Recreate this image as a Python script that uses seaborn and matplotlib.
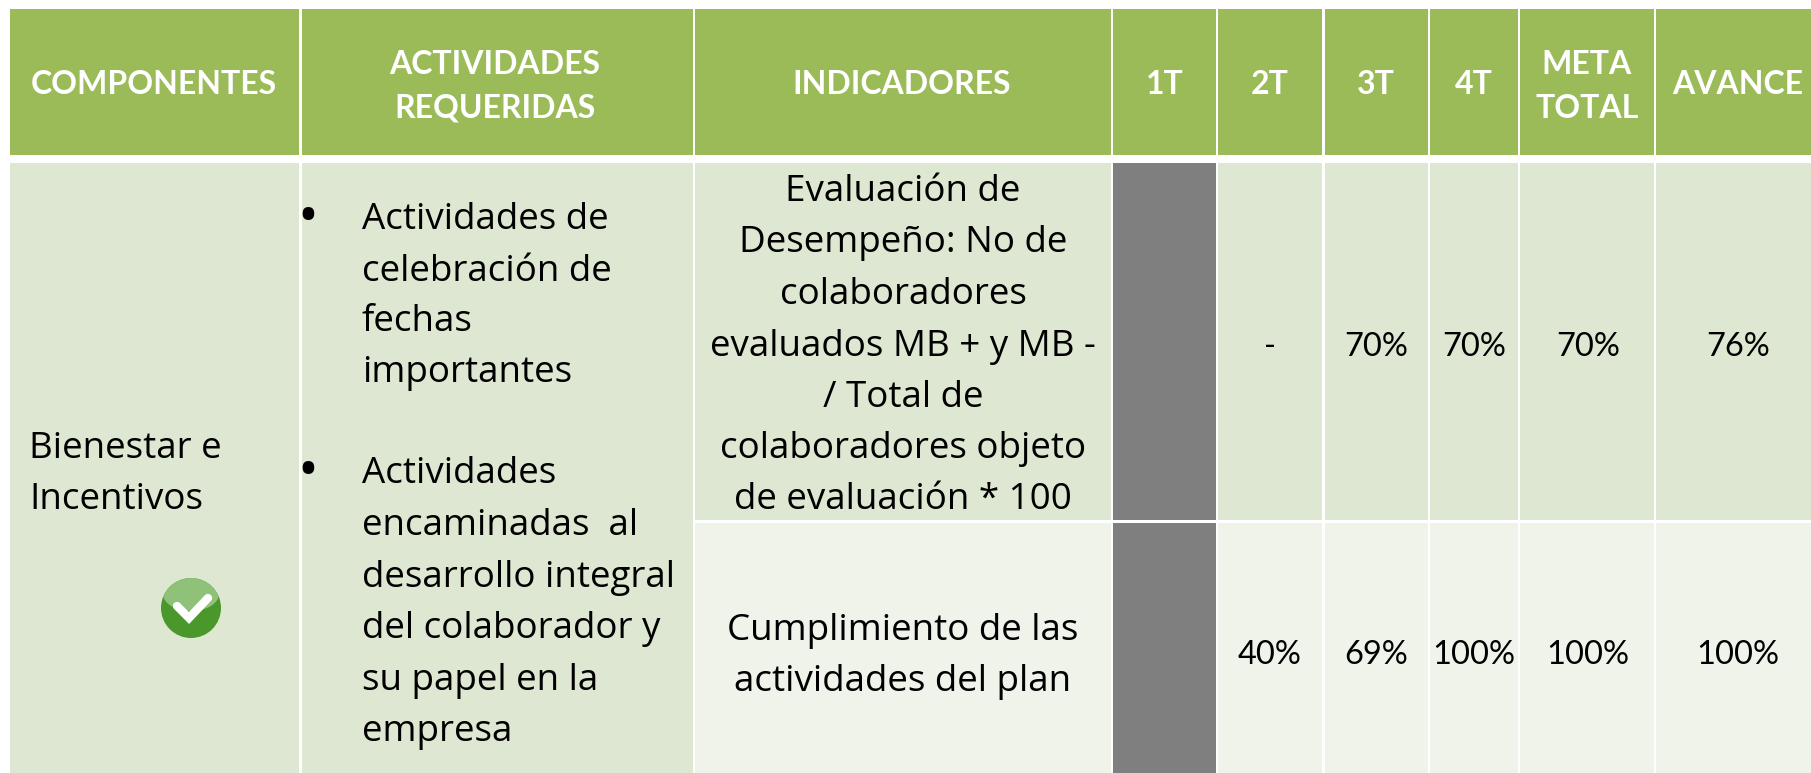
import numpy as np
import matplotlib
matplotlib.use("Agg")
import matplotlib.pyplot as plt
from matplotlib.colors import ListedColormap
from matplotlib.patches import Circle, Ellipse
import seaborn as sns

# ---- content ----
header_single = ["COMPONENTES", "INDICADORES", "1T", "2T", "3T", "4T", "AVANCE"]
header_double = [("ACTIVIDADES", "REQUERIDAS"), ("META", "TOTAL")]
component = ["Bienestar e", "Incentivos"]
activities = ["Actividades de", "celebración de", "fechas", "importantes",
              "Actividades", "encaminadas  al", "desarrollo integral",
              "del colaborador y", "su papel en la", "empresa"]
indicator_1 = ["Evaluación de", "Desempeño: No de", "colaboradores",
               "evaluados MB + y MB -", "/ Total de", "colaboradores objeto",
               "de evaluación * 100"]
indicator_2 = ["Cumplimiento de las", "actividades del plan"]
values_1 = ["-", "70%", "70%", "70%", "76%"]
values_2 = ["40%", "69%", "100%", "100%", "100%"]

# ---- layout (pixels) ----
col_edges = [0, 10, 299, 302, 693, 695, 1111, 1113, 1216, 1218, 1322, 1325,
             1428, 1430, 1518, 1520, 1654, 1656, 1811]
row_edges = [0, 9, 155, 163, 520, 523, 773]
WHITE, GREEN, LIGHT, PALE, GREY = 0, 1, 2, 3, 4
palette = ["#FFFFFF", "#9BBB59", "#DEE7D1", "#EFF3EA", "#7F7F7F"]

n_rows, n_cols = len(row_edges) - 1, len(col_edges) - 1
codes = np.zeros((n_rows, n_cols), dtype=int)
cell_cols = list(range(1, n_cols, 2))
for c in cell_cols:
    codes[1, c] = GREEN
    codes[3, c] = LIGHT
    codes[5, c] = PALE
codes[4, cell_cols[:2]] = LIGHT
codes[5, cell_cols[:2]] = LIGHT
codes[3, cell_cols[3]] = GREY
codes[5, cell_cols[3]] = GREY
grid = np.repeat(np.repeat(codes, np.diff(row_edges), axis=0), np.diff(col_edges), axis=1)

sns.set_theme(style="white")
fig = plt.figure(figsize=(18.11, 7.73), dpi=100)
ax = fig.add_axes([0, 0, 1, 1])
sns.heatmap(grid, ax=ax, cmap=ListedColormap(palette), vmin=-0.5, vmax=4.5,
            cbar=False, xticklabels=False, yticklabels=False)
ax.set_xlim(0, 1811)
ax.set_ylim(773, 0)
ax.axis("off")

HEAD = dict(family="Lato", fontweight="bold", color="white", fontsize=23,
            ha="center", va="center")
BODY = dict(family="Open Sans", color="#000000", fontsize=26.5, va="center")
PCT = dict(family="Lato", color="#000000", fontsize=23.5, ha="center", va="center")

for label, x in zip(header_single, [154, 902, 1165, 1270, 1376, 1474, 1738]):
    ax.text(x, 85, label, **HEAD)
for (a, b), x in zip(header_double, [495, 1587]):
    ax.text(x, 65, a, **HEAD)
    ax.text(x, 108, b, **HEAD)

for line, y in zip(component, [449, 500]):
    ax.text(29, y, line, ha="left", **BODY)
for line, y in zip(activities, [220, 272, 322, 373, 474, 526, 578, 629, 681, 732]):
    ax.text(362, y, line, ha="left", **BODY)
for y in [220, 474]:
    ax.text(308, y, "•", ha="center", **{**BODY, "fontsize": 40})
for line, y in zip(indicator_1, [192, 243, 295, 347, 398, 449, 500]):
    ax.text(903, y, line, ha="center", **BODY)
for line, y in zip(indicator_2, [631, 682]):
    ax.text(903, y, line, ha="center", **BODY)
for v, x in zip(values_1, [1270, 1376, 1474, 1588, 1738]):
    ax.text(x, 347, v, **PCT)
for v, x in zip(values_2, [1270, 1376, 1474, 1588, 1738]):
    ax.text(x, 655, v, **PCT)

# check icon
base = Circle((191, 608), 30, fc="#4A982B", ec="none", zorder=3)
ax.add_patch(base)
glow = Ellipse((191, 594), 56, 34, fc="#8FC178", ec="none", zorder=4)
ax.add_patch(glow)
glow.set_clip_path(base)
ax.plot([177, 189, 208], [606, 618, 598], color="white", lw=6, zorder=5,
        solid_capstyle="round", solid_joinstyle="miter")

fig.savefig("out.png", dpi=100)
